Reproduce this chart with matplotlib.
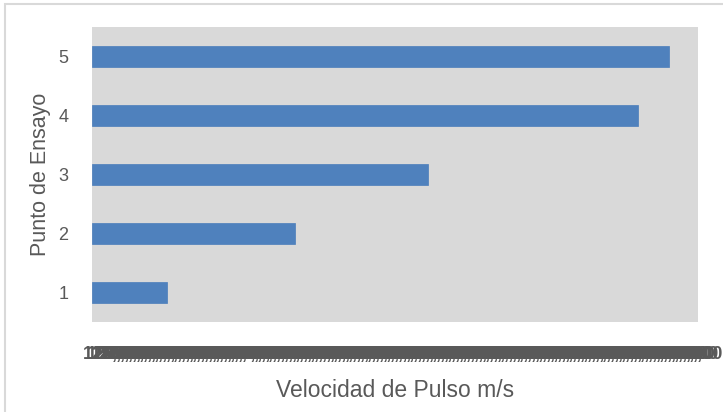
import matplotlib
matplotlib.use("Agg")
import matplotlib.pyplot as plt
import numpy as np
from matplotlib.patches import Rectangle

puntos = ["1", "2", "3", "4", "5"]
velocidad = [496, 1342, 2221, 3603, 3808]
x_ticks = list(range(125, 3951, 25))
x_tick_labels = ["{:.2f}".format(v).replace(".", ",") for v in x_ticks]

plt.rcParams['font.family'] = ['Liberation Sans', 'DejaVu Sans']
grey = "#595959"

fig = plt.figure(figsize=(7.23, 4.12), dpi=100)
fig.patches.append(Rectangle((5/723, -0.01), 1.2, 1 - 4/412 + 0.01, transform=fig.transFigure,
                             fill=False, edgecolor="#D9D9D9", linewidth=1.5))
ax = fig.add_axes([92/723, 1 - 322/412, (698 - 92)/723, (322 - 27)/412])
ax.set_facecolor("#D9D9D9")
ypos = np.arange(1, len(puntos) + 1)
ax.barh(ypos, velocidad, height=0.36, color="#4F81BD", edgecolor="#4A7EBB", linewidth=0.5)
ax.set_ylim(0.5, 5.5)
ax.set_xlim(0, 4000)
ax.set_yticks(ypos)
ax.set_yticklabels(puntos, fontsize=13, color=grey)
ax.set_xticks(x_ticks)
ax.set_xticklabels(x_tick_labels, fontsize=13, color=grey, fontweight="bold")
ax.tick_params(axis="both", length=0)
ax.tick_params(axis="x", pad=17)
ax.tick_params(axis="y", pad=17)
for s in ax.spines.values():
    s.set_visible(False)
ax.set_xlabel("Velocidad de Pulso m/s", fontsize=16.5, color=grey, labelpad=12)
ax.set_ylabel("Punto de Ensayo", fontsize=15.5, color=grey, labelpad=5)
fig.savefig("out.png", dpi=100)
